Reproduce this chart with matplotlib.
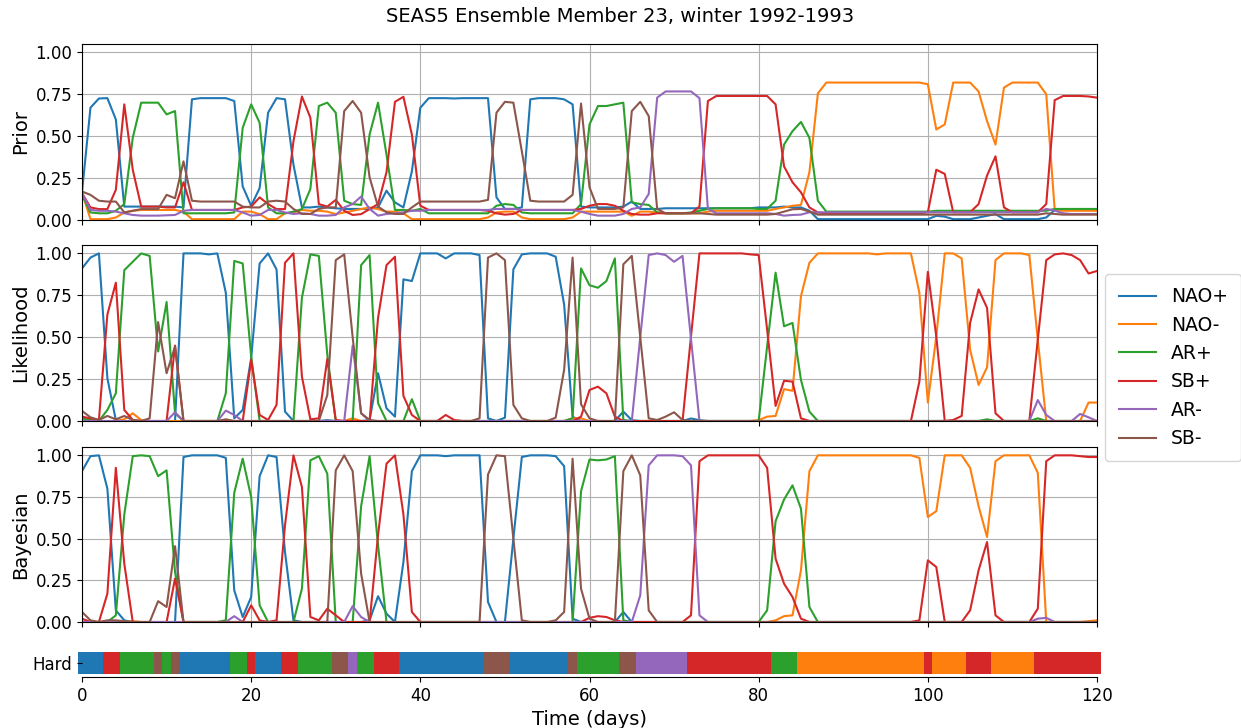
import numpy as np
import matplotlib
matplotlib.use('Agg')
import matplotlib.pyplot as plt

# regimes
names = ['NAO+', 'NAO-', 'AR+', 'SB+', 'AR-', 'SB-']
colors = ['#1f77b4', '#ff7f0e', '#2ca02c', '#d62728', '#9467bd', '#8c564b']
days = np.arange(121)

# ---- Prior ----
prior_nao_pos = [
    0.165, 0.67, 0.725, 0.727, 0.60, 0.08, 0.08, 0.08, 0.08, 0.08,
    0.08, 0.08, 0.075, 0.72, 0.727, 0.727, 0.727, 0.727, 0.71, 0.20,
    0.085, 0.19, 0.64, 0.727, 0.72, 0.33, 0.075, 0.075, 0.08, 0.075,
    0.07, 0.066, 0.066, 0.066, 0.066, 0.075, 0.175, 0.105, 0.075, 0.29,
    0.67, 0.727, 0.727, 0.727, 0.725, 0.727, 0.727, 0.727, 0.727, 0.135,
    0.066, 0.066, 0.075, 0.72, 0.727, 0.727, 0.727, 0.72, 0.69, 0.08,
    0.075, 0.075, 0.075, 0.075, 0.08, 0.11, 0.066, 0.066, 0.066, 0.07,
    0.07, 0.07, 0.07, 0.07, 0.07, 0.07, 0.07, 0.07, 0.07, 0.07,
    0.075, 0.075, 0.075, 0.08, 0.075, 0.075, 0.055, 0.005, 0.005, 0.005,
    0.005, 0.005, 0.005, 0.005, 0.005, 0.005, 0.005, 0.005, 0.005, 0.005,
    0.005, 0.025, 0.02, 0.005, 0.005, 0.005, 0.015, 0.025, 0.035, 0.005,
    0.005, 0.005, 0.005, 0.005, 0.015, 0.06, 0.06, 0.06, 0.06, 0.06,
    0.06]
prior_nao_neg = [
    0.165, 0.005, 0.005, 0.005, 0.015, 0.045, 0.055, 0.06, 0.06, 0.06,
    0.06, 0.06, 0.05, 0.005, 0.005, 0.005, 0.005, 0.005, 0.005, 0.05,
    0.05, 0.035, 0.005, 0.005, 0.04, 0.045, 0.06, 0.055, 0.055, 0.05,
    0.035, 0.045, 0.055, 0.065, 0.075, 0.065, 0.05, 0.05, 0.04, 0.005,
    0.005, 0.005, 0.005, 0.005, 0.005, 0.005, 0.005, 0.005, 0.015, 0.045,
    0.05, 0.05, 0.015, 0.005, 0.005, 0.005, 0.005, 0.005, 0.015, 0.05,
    0.05, 0.05, 0.05, 0.05, 0.05, 0.025, 0.05, 0.05, 0.045, 0.04,
    0.04, 0.04, 0.04, 0.04, 0.05, 0.055, 0.055, 0.055, 0.055, 0.055,
    0.055, 0.055, 0.066, 0.075, 0.085, 0.09, 0.285, 0.755, 0.82, 0.82,
    0.82, 0.82, 0.82, 0.82, 0.82, 0.82, 0.82, 0.82, 0.82, 0.82,
    0.81, 0.54, 0.57, 0.82, 0.82, 0.82, 0.767, 0.59, 0.45, 0.79,
    0.82, 0.82, 0.82, 0.82, 0.75, 0.06, 0.055, 0.055, 0.055, 0.055,
    0.055]
prior_ar_pos = [
    0.15, 0.045, 0.04, 0.04, 0.055, 0.095, 0.49, 0.70, 0.70, 0.70,
    0.63, 0.65, 0.04, 0.04, 0.04, 0.04, 0.04, 0.04, 0.045, 0.55,
    0.69, 0.58, 0.075, 0.04, 0.04, 0.05, 0.065, 0.185, 0.68, 0.70,
    0.64, 0.115, 0.095, 0.09, 0.51, 0.70, 0.39, 0.06, 0.06, 0.055,
    0.066, 0.04, 0.04, 0.04, 0.04, 0.04, 0.04, 0.04, 0.04, 0.085,
    0.095, 0.09, 0.045, 0.04, 0.04, 0.04, 0.04, 0.04, 0.04, 0.095,
    0.57, 0.68, 0.68, 0.69, 0.70, 0.105, 0.095, 0.09, 0.045, 0.04,
    0.04, 0.04, 0.045, 0.055, 0.066, 0.07, 0.07, 0.07, 0.07, 0.07,
    0.066, 0.066, 0.115, 0.45, 0.53, 0.585, 0.49, 0.115, 0.05, 0.05,
    0.05, 0.05, 0.05, 0.05, 0.05, 0.05, 0.05, 0.05, 0.05, 0.05,
    0.05, 0.055, 0.055, 0.055, 0.055, 0.055, 0.055, 0.055, 0.055, 0.055,
    0.055, 0.055, 0.055, 0.055, 0.055, 0.066, 0.066, 0.066, 0.066, 0.066,
    0.066]
prior_sb_pos = [
    0.16, 0.075, 0.065, 0.065, 0.18, 0.69, 0.30, 0.08, 0.08, 0.08,
    0.075, 0.075, 0.225, 0.06, 0.06, 0.06, 0.06, 0.06, 0.06, 0.075,
    0.08, 0.135, 0.095, 0.065, 0.065, 0.47, 0.737, 0.61, 0.095, 0.08,
    0.12, 0.055, 0.03, 0.035, 0.065, 0.095, 0.285, 0.705, 0.735, 0.51,
    0.085, 0.06, 0.06, 0.06, 0.06, 0.06, 0.06, 0.06, 0.055, 0.04,
    0.032, 0.036, 0.06, 0.06, 0.06, 0.06, 0.06, 0.06, 0.06, 0.066,
    0.085, 0.095, 0.095, 0.085, 0.055, 0.036, 0.032, 0.032, 0.04, 0.04,
    0.04, 0.04, 0.04, 0.08, 0.71, 0.74, 0.74, 0.74, 0.74, 0.74,
    0.74, 0.74, 0.69, 0.32, 0.225, 0.165, 0.075, 0.045, 0.04, 0.04,
    0.04, 0.04, 0.04, 0.04, 0.04, 0.04, 0.04, 0.04, 0.04, 0.04,
    0.046, 0.30, 0.275, 0.046, 0.046, 0.046, 0.095, 0.265, 0.38, 0.075,
    0.046, 0.046, 0.046, 0.046, 0.095, 0.715, 0.74, 0.74, 0.74, 0.737,
    0.73]
prior_ar_neg = [
    0.16, 0.06, 0.055, 0.055, 0.05, 0.04, 0.03, 0.026, 0.026, 0.026,
    0.028, 0.03, 0.055, 0.06, 0.06, 0.06, 0.06, 0.06, 0.06, 0.045,
    0.026, 0.03, 0.06, 0.06, 0.045, 0.036, 0.04, 0.036, 0.026, 0.026,
    0.03, 0.075, 0.095, 0.14, 0.066, 0.026, 0.036, 0.04, 0.046, 0.055,
    0.055, 0.06, 0.06, 0.06, 0.06, 0.06, 0.06, 0.06, 0.06, 0.066,
    0.066, 0.066, 0.06, 0.06, 0.06, 0.06, 0.06, 0.06, 0.06, 0.05,
    0.036, 0.026, 0.026, 0.026, 0.036, 0.066, 0.075, 0.155, 0.73, 0.767,
    0.767, 0.767, 0.767, 0.727, 0.066, 0.04, 0.04, 0.04, 0.04, 0.04,
    0.04, 0.04, 0.036, 0.026, 0.03, 0.032, 0.046, 0.046, 0.046, 0.046,
    0.046, 0.046, 0.046, 0.046, 0.046, 0.046, 0.046, 0.046, 0.046, 0.046,
    0.046, 0.046, 0.046, 0.046, 0.046, 0.046, 0.046, 0.046, 0.046, 0.046,
    0.046, 0.046, 0.046, 0.046, 0.066, 0.056, 0.04, 0.036, 0.036, 0.036,
    0.036]
prior_sb_neg = [
    0.17, 0.15, 0.115, 0.11, 0.11, 0.045, 0.055, 0.065, 0.065, 0.065,
    0.15, 0.13, 0.35, 0.115, 0.11, 0.11, 0.11, 0.11, 0.11, 0.08,
    0.075, 0.075, 0.11, 0.115, 0.11, 0.066, 0.036, 0.036, 0.066, 0.075,
    0.075, 0.65, 0.71, 0.64, 0.255, 0.08, 0.046, 0.036, 0.036, 0.075,
    0.11, 0.11, 0.11, 0.11, 0.11, 0.11, 0.11, 0.11, 0.12, 0.64,
    0.705, 0.70, 0.41, 0.115, 0.11, 0.11, 0.11, 0.11, 0.15, 0.695,
    0.195, 0.066, 0.066, 0.066, 0.075, 0.65, 0.705, 0.62, 0.066, 0.04,
    0.04, 0.04, 0.04, 0.04, 0.036, 0.032, 0.032, 0.032, 0.032, 0.032,
    0.032, 0.032, 0.036, 0.05, 0.064, 0.066, 0.05, 0.032, 0.032, 0.032,
    0.032, 0.032, 0.032, 0.032, 0.032, 0.032, 0.032, 0.032, 0.032, 0.032,
    0.032, 0.032, 0.032, 0.032, 0.032, 0.032, 0.032, 0.032, 0.032, 0.032,
    0.032, 0.032, 0.032, 0.032, 0.04, 0.036, 0.032, 0.032, 0.032, 0.032,
    0.032]

# ---- Likelihood ----
lik_nao_pos = [
    0.91, 0.975, 1.0, 0.255, 0.005, 0, 0, 0, 0, 0,
    0, 0, 1.0, 1.0, 1.0, 0.994, 1.0, 0.765, 0.016, 0.066,
    0.375, 0.94, 1.0, 0.904, 0.056, 0, 0, 0, 0, 0.005,
    0, 0, 0, 0, 0.005, 0.285, 0.076, 0.026, 0.845, 0.835,
    1.0, 1.0, 1.0, 0.97, 1.0, 1.0, 1.0, 0.99, 0.016, 0,
    0.02, 0.905, 0.994, 1.0, 1.0, 1.0, 0.98, 0.695, 0.026, 0,
    0, 0, 0, 0, 0.056, 0.005, 0, 0, 0, 0,
    0, 0, 0.015, 0.005, 0, 0, 0, 0, 0, 0,
    0, 0, 0, 0, 0, 0, 0, 0, 0, 0,
    0, 0, 0, 0, 0, 0, 0, 0, 0, 0,
    0, 0, 0, 0, 0, 0, 0, 0, 0, 0,
    0, 0, 0, 0, 0, 0, 0, 0, 0, 0,
    0]
lik_nao_neg = [
    0.005, 0, 0, 0, 0, 0.01, 0.046, 0.005, 0, 0,
    0, 0, 0, 0, 0, 0, 0, 0, 0, 0,
    0, 0, 0, 0, 0, 0, 0, 0, 0, 0,
    0, 0, 0.016, 0, 0, 0, 0, 0, 0, 0,
    0, 0, 0, 0, 0, 0, 0, 0, 0, 0,
    0, 0, 0, 0, 0, 0, 0, 0, 0.016, 0.016,
    0, 0, 0, 0, 0, 0, 0, 0, 0, 0,
    0, 0, 0, 0, 0, 0, 0, 0, 0, 0,
    0.005, 0.026, 0.03, 0.19, 0.18, 0.745, 0.944, 1.0, 1.0, 1.0,
    1.0, 1.0, 1.0, 1.0, 0.994, 1.0, 1.0, 1.0, 1.0, 0.765,
    0.11, 0.505, 1.0, 1.0, 0.97, 0.425, 0.215, 0.32, 0.96, 1.0,
    1.0, 1.0, 0.99, 0.485, 0, 0, 0, 0, 0, 0.11,
    0.11]
lik_ar_pos = [
    0.016, 0.006, 0, 0.066, 0.165, 0.9, 0.95, 1.0, 0.985, 0.415,
    0.71, 0.046, 0, 0, 0, 0, 0, 0.165, 0.955, 0.94,
    0.385, 0, 0, 0, 0, 0, 0.735, 0.994, 0.985, 0.395,
    0, 0, 0, 0.93, 0.99, 0.106, 0, 0, 0, 0.13,
    0, 0, 0, 0, 0, 0, 0, 0, 0, 0,
    0, 0, 0, 0, 0, 0, 0, 0, 0.016, 0.91,
    0.81, 0.795, 0.835, 0.97, 0.006, 0, 0, 0, 0, 0,
    0, 0, 0, 0, 0, 0, 0, 0, 0, 0,
    0, 0.445, 0.885, 0.565, 0.585, 0.245, 0.056, 0, 0, 0,
    0, 0, 0, 0, 0, 0, 0, 0, 0, 0,
    0, 0, 0, 0, 0, 0, 0, 0.01, 0, 0,
    0, 0, 0, 0.016, 0, 0, 0, 0, 0, 0,
    0]
lik_sb_pos = [
    0.026, 0.016, 0.006, 0.635, 0.825, 0.066, 0.006, 0, 0, 0,
    0, 0.45, 0, 0, 0, 0, 0, 0, 0, 0,
    0.365, 0.036, 0.006, 0.096, 0.944, 1.0, 0.265, 0.01, 0.016, 0.37,
    0.006, 0, 0, 0, 0, 0.615, 0.93, 0.98, 0.15, 0.036,
    0, 0, 0, 0.036, 0.006, 0, 0, 0, 0, 0,
    0, 0, 0, 0, 0, 0, 0, 0, 0, 0.026,
    0.185, 0.205, 0.165, 0.026, 0, 0, 0, 0, 0, 0,
    0, 0, 0.505, 1.0, 1.0, 1.0, 1.0, 1.0, 1.0, 0.994,
    0.99, 0.545, 0.09, 0.24, 0.235, 0.016, 0, 0, 0, 0,
    0, 0, 0, 0, 0, 0, 0, 0, 0, 0.235,
    0.89, 0.505, 0, 0.006, 0.03, 0.585, 0.785, 0.675, 0.046, 0,
    0, 0, 0, 0.485, 0.96, 0.994, 1.0, 0.99, 0.96, 0.88,
    0.895]
lik_ar_neg = [
    0, 0, 0, 0, 0, 0, 0, 0, 0, 0,
    0, 0.052, 0, 0, 0, 0, 0, 0.062, 0.036, 0,
    0, 0, 0, 0, 0, 0, 0, 0, 0, 0,
    0, 0, 0.45, 0.046, 0, 0, 0, 0, 0, 0,
    0, 0, 0, 0, 0, 0, 0, 0, 0, 0,
    0, 0, 0, 0, 0, 0, 0, 0, 0, 0,
    0, 0, 0, 0, 0, 0, 0.5, 0.99, 1.0, 0.99,
    0.95, 0.985, 0.49, 0, 0, 0, 0, 0, 0, 0,
    0, 0, 0, 0, 0, 0, 0, 0, 0, 0,
    0, 0, 0, 0, 0, 0, 0, 0, 0, 0,
    0, 0, 0, 0, 0, 0, 0, 0, 0, 0,
    0, 0, 0, 0.125, 0.036, 0, 0, 0, 0.042, 0.022,
    0]
lik_sb_neg = [
    0.06, 0.022, 0.006, 0.03, 0.01, 0.03, 0.006, 0, 0.016, 0.59,
    0.285, 0.445, 0, 0, 0, 0, 0, 0.01, 0, 0,
    0, 0, 0, 0, 0, 0, 0, 0, 0, 0.155,
    0.96, 0.994, 0.5, 0.046, 0.006, 0, 0, 0, 0, 0,
    0, 0, 0, 0, 0, 0, 0, 0.016, 0.975, 1.0,
    0.96, 0.096, 0.016, 0, 0, 0, 0.02, 0.305, 0.975, 0.1,
    0.016, 0, 0, 0, 0.935, 0.985, 0.5, 0.016, 0.006, 0.026,
    0.052, 0.006, 0, 0, 0, 0, 0, 0, 0, 0,
    0, 0, 0, 0, 0, 0, 0, 0, 0, 0,
    0, 0, 0, 0, 0, 0, 0, 0, 0, 0,
    0, 0, 0, 0, 0, 0, 0, 0, 0, 0,
    0, 0, 0, 0, 0, 0, 0, 0, 0, 0,
    0]

# ---- Bayesian ----
bay_nao_pos = [
    0.905, 0.995, 1.0, 0.8, 0.07, 0.01, 0, 0, 0, 0,
    0, 0, 0.99, 1.0, 1.0, 1.0, 1.0, 0.985, 0.19, 0.03,
    0.15, 0.875, 1.0, 0.99, 0.42, 0.01, 0, 0, 0, 0,
    0, 0, 0, 0, 0.01, 0.155, 0.05, 0, 0.36, 0.905,
    1.0, 1.0, 1.0, 0.995, 1.0, 1.0, 1.0, 1.0, 0.12, 0,
    0, 0.5, 0.99, 1.0, 1.0, 1.0, 0.995, 0.935, 0.02, 0,
    0, 0, 0, 0, 0.06, 0, 0, 0, 0, 0,
    0, 0, 0, 0, 0, 0, 0, 0, 0, 0,
    0, 0, 0, 0, 0, 0, 0, 0, 0, 0,
    0, 0, 0, 0, 0, 0, 0, 0, 0, 0,
    0, 0, 0, 0, 0, 0, 0, 0, 0, 0,
    0, 0, 0, 0, 0, 0, 0, 0, 0, 0,
    0]
bay_nao_neg = [
    0, 0, 0, 0, 0, 0, 0.005, 0, 0, 0,
    0, 0, 0, 0, 0, 0, 0, 0, 0, 0,
    0, 0, 0, 0, 0, 0, 0, 0, 0, 0,
    0, 0, 0, 0, 0, 0, 0, 0, 0, 0,
    0, 0, 0, 0, 0, 0, 0, 0, 0, 0,
    0, 0, 0, 0, 0, 0, 0, 0, 0, 0,
    0, 0, 0, 0, 0, 0, 0, 0, 0, 0,
    0, 0, 0, 0, 0, 0, 0, 0, 0, 0,
    0, 0, 0.01, 0.035, 0.04, 0.31, 0.905, 1.0, 1.0, 1.0,
    1.0, 1.0, 1.0, 1.0, 1.0, 1.0, 1.0, 1.0, 1.0, 0.985,
    0.63, 0.665, 1.0, 1.0, 1.0, 0.925, 0.695, 0.51, 0.965, 1.0,
    1.0, 1.0, 1.0, 0.895, 0, 0, 0, 0, 0, 0.005,
    0.01]
bay_ar_pos = [
    0, 0, 0, 0, 0.04, 0.645, 0.995, 1.0, 0.995, 0.875,
    0.91, 0.3, 0, 0, 0, 0, 0, 0.01, 0.775, 0.98,
    0.75, 0.1, 0, 0, 0, 0, 0.2, 0.97, 0.995, 0.89,
    0, 0, 0, 0.695, 0.995, 0.46, 0, 0, 0, 0,
    0, 0, 0, 0, 0, 0, 0, 0, 0, 0,
    0, 0, 0, 0, 0, 0, 0, 0, 0, 0.785,
    0.975, 0.97, 0.975, 0.995, 0.01, 0, 0, 0, 0, 0,
    0, 0, 0, 0, 0, 0, 0, 0, 0, 0,
    0, 0.07, 0.605, 0.735, 0.82, 0.68, 0.09, 0, 0, 0,
    0, 0, 0, 0, 0, 0, 0, 0, 0, 0,
    0, 0, 0, 0, 0, 0, 0, 0, 0, 0,
    0, 0, 0, 0, 0, 0, 0, 0, 0, 0,
    0]
bay_sb_pos = [
    0.02, 0, 0, 0.17, 0.925, 0.35, 0, 0, 0, 0,
    0, 0.26, 0, 0, 0, 0, 0, 0, 0, 0,
    0.1, 0.01, 0, 0.01, 0.58, 1.0, 0.81, 0.03, 0.01, 0.08,
    0.04, 0, 0, 0, 0, 0.52, 0.95, 1.0, 0.645, 0.06,
    0, 0, 0, 0, 0, 0, 0, 0, 0, 0,
    0, 0, 0, 0, 0, 0, 0, 0, 0, 0,
    0.025, 0.035, 0.03, 0.01, 0, 0, 0, 0, 0, 0,
    0, 0, 0.04, 0.965, 1.0, 1.0, 1.0, 1.0, 1.0, 1.0,
    1.0, 0.925, 0.38, 0.23, 0.15, 0.02, 0, 0, 0, 0,
    0, 0, 0, 0, 0, 0, 0, 0, 0, 0.01,
    0.37, 0.33, 0, 0, 0, 0.07, 0.31, 0.48, 0.04, 0,
    0, 0, 0, 0.08, 0.965, 1.0, 1.0, 1.0, 0.995, 0.99,
    0.99]
bay_ar_neg = [
    0, 0, 0, 0, 0, 0, 0, 0, 0, 0,
    0, 0, 0, 0, 0, 0, 0, 0, 0.035, 0,
    0, 0, 0, 0, 0, 0, 0, 0, 0, 0,
    0, 0, 0.095, 0.03, 0, 0, 0, 0, 0, 0,
    0, 0, 0, 0, 0, 0, 0, 0, 0, 0,
    0, 0, 0, 0, 0, 0, 0, 0, 0, 0,
    0, 0, 0, 0, 0, 0, 0.16, 0.94, 1.0, 1.0,
    1.0, 0.995, 0.94, 0.04, 0, 0, 0, 0, 0, 0,
    0, 0, 0, 0, 0, 0, 0, 0, 0, 0,
    0, 0, 0, 0, 0, 0, 0, 0, 0, 0,
    0, 0, 0, 0, 0, 0, 0, 0, 0, 0,
    0, 0, 0, 0.02, 0.025, 0, 0, 0, 0, 0,
    0]
bay_sb_neg = [
    0.06, 0.01, 0, 0.01, 0.01, 0.005, 0, 0, 0, 0.125,
    0.09, 0.455, 0, 0, 0, 0, 0, 0, 0, 0,
    0, 0, 0, 0, 0, 0, 0, 0, 0, 0,
    0.91, 1.0, 0.905, 0.29, 0, 0, 0, 0, 0, 0,
    0, 0, 0, 0, 0, 0, 0, 0, 0.885, 1.0,
    0.995, 0.5, 0.01, 0, 0, 0, 0.01, 0.06, 0.98, 0.2,
    0.02, 0, 0, 0, 0.905, 1.0, 0.88, 0.07, 0, 0,
    0, 0, 0, 0, 0, 0, 0, 0, 0, 0,
    0, 0, 0, 0, 0, 0, 0, 0, 0, 0,
    0, 0, 0, 0, 0, 0, 0, 0, 0, 0,
    0, 0, 0, 0, 0, 0, 0, 0, 0, 0,
    0, 0, 0, 0, 0, 0, 0, 0, 0, 0,
    0]

# hard assignment (index into names)
hard = [
    0, 0, 0, 3, 3, 2, 2, 2, 2, 5,
    2, 5, 0, 0, 0, 0, 0, 0, 2, 2,
    3, 0, 0, 0, 3, 3, 2, 2, 2, 2,
    5, 5, 4, 2, 2, 3, 3, 3, 0, 0,
    0, 0, 0, 0, 0, 0, 0, 0, 5, 5,
    5, 0, 0, 0, 0, 0, 0, 0, 5, 2,
    2, 2, 2, 2, 5, 5, 4, 4, 4, 4,
    4, 4, 3, 3, 3, 3, 3, 3, 3, 3,
    3, 3, 2, 2, 2, 1, 1, 1, 1, 1,
    1, 1, 1, 1, 1, 1, 1, 1, 1, 1,
    3, 1, 1, 1, 1, 3, 3, 3, 1, 1,
    1, 1, 1, 3, 3, 3, 3, 3, 3, 3,
    3]

panels = [
    ('Prior', [prior_nao_pos, prior_nao_neg, prior_ar_pos, prior_sb_pos, prior_ar_neg, prior_sb_neg]),
    ('Likelihood', [lik_nao_pos, lik_nao_neg, lik_ar_pos, lik_sb_pos, lik_ar_neg, lik_sb_neg]),
    ('Bayesian', [bay_nao_pos, bay_nao_neg, bay_ar_pos, bay_sb_pos, bay_ar_neg, bay_sb_neg]),
]

W, H = 1241, 728


def rect(l, t, r, b):
    # pixel box -> figure fraction
    return [l / W, 1 - b / H, (r - l) / W, (b - t) / H]


fig = plt.figure(figsize=(W / 100, H / 100), dpi=100)
boxes = [(82, 44, 1097, 220), (82, 245, 1097, 421), (82, 447, 1097, 622)]

axes = []
for (label, series), box in zip(panels, boxes):
    ax = fig.add_axes(rect(*box), sharex=axes[0] if axes else None)
    for name, vals, col in zip(names, series, colors):
        ax.plot(days, vals, color=col, lw=1.5, label=name)
    ax.set_ylim(0, 1.05)
    ax.set_yticks([0, 0.25, 0.5, 0.75, 1.0])
    ax.set_ylabel(label, fontsize=14)
    ax.grid(True)
    ax.tick_params(labelsize=12, labelbottom=False)
    axes.append(ax)
axes[0].set_xlim(0, 120)
axes[0].set_xticks(range(0, 121, 20))

# hard assignment strip (one cell per day)
axh = fig.add_axes(rect(82, 652, 1097, 677))
axh.bar(days, 1, width=1.0, bottom=0, color=[colors[h] for h in hard],
        linewidth=0, clip_on=False)
axh.set_xlim(0, 120)
axh.set_ylim(-0.14, 1)
axh.set_xticks(range(0, 121, 20))
axh.set_yticks([0.5])
axh.set_yticklabels(['Hard'])
for s in ['top', 'right', 'left']:
    axh.spines[s].set_visible(False)
axh.tick_params(labelsize=12)
axh.set_xlabel('Time (days)', fontsize=14)

handles, labels = axes[0].get_legend_handles_labels()
fig.legend(handles, labels, loc='center left', bbox_to_anchor=(1096 / W, 0.495),
           fontsize=13.5, borderpad=0.7)

fig.text(0.5, 1 - 17 / H, 'SEAS5 Ensemble Member 23, winter 1992-1993',
         ha='center', va='center', fontsize=14)

fig.savefig('out.png', dpi=100)
